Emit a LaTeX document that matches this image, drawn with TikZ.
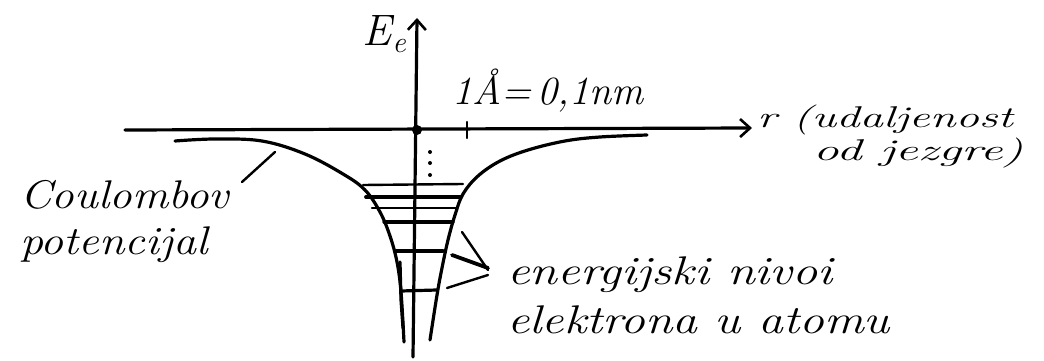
\documentclass[tikz,border=0pt]{standalone}
\usepackage{fontspec}
\usetikzlibrary{arrows.meta}
\newcommand{\hwide}[2]{\scalebox{#1}[1]{#2}}
\tikzset{
  pen/.style={line width=3.2pt, line cap=round, line join=round},
  thinpen/.style={line width=2.4pt, line cap=round},
  hand/.style={font=\fontsize{40}{44}\selectfont\itshape, inner sep=0pt},
  smallhand/.style={font=\fontsize{30}{32}\selectfont\itshape, inner sep=0pt},
  barb/.style={-{Straight Barb[length=10pt,width=18pt,line width=2.6pt]}}
}
\begin{document}
\begin{tikzpicture}[x=1pt,y=-1pt]
\useasboundingbox (0,0) rectangle (1044,361);
% axes
\coordinate (ybot) at (413,357);
\coordinate (ytop) at (417,18);
\coordinate (xleft) at (125,130);
\coordinate (xright) at (752,128);
\draw[pen,barb] (ybot) -- (ytop);
\draw[pen,barb] (xleft) -- (xright);
\fill (417,130) circle (5);
\draw[thinpen] (467,122) -- (467,138);
% dots
\foreach \yy in {152,163,175} \fill (430,\yy) circle (2);
% potential curve
\draw[pen] plot[smooth, tension=0.6] coordinates {(175,141) (215,139) (262,141) (305,154) (343,174) (365,190) (380,212) (390,236) (397,262) (401,292) (404,342)};
\draw[pen] (400,262) -- (401,300) -- (403,328);
\draw[pen] plot[smooth, tension=0.6] coordinates {(647,135) (600,137) (565,141) (528,150) (500,161) (478,176) (463,194) (455,215) (448,240) (442,268) (437,295) (430,340)};
% energy levels
\draw[thinpen] (363,185) -- (463,184);
\draw[pen, line width=3.8pt] (366,197) -- (460,197);
\draw[thinpen] (372,208) -- (457,208);
\draw[pen] (384,222) -- (453,222);
\draw[pen] (396,251) -- (443,251);
\draw[pen] (401,291) -- (437,290);
% leader lines
\draw[thinpen] (275,152) -- (242,182);
\draw[thinpen] (462,232) -- (488,270);
\draw[pen, line width=3.8pt] (452,255) -- (488,268);
\draw[thinpen] (447,288) -- (488,275);
% labels
\node[inner sep=0pt, anchor=base west, font=\fontsize{44}{44}\selectfont\itshape] (Ee) at (362,46) {E\kern1pt\raisebox{-6pt}{\fontsize{30}{30}\selectfont e}};
\node[hand, anchor=base west] (scale) at (452,104) {1Å=\,0,1nm};
\node[smallhand, anchor=base west] (rlab) at (757,127) {\hwide{1.56}{r (udaljenost}};
\node[smallhand, anchor=base west] (rlab2) at (813,160) {\hwide{1.7}{od jezgre)}};
\node[hand, anchor=base west] (coul) at (20,208) {\hwide{1.13}{Coulombov}};
\node[hand, anchor=base west] (coul2) at (20,254) {\hwide{1.15}{potencijal}};
\node[hand, anchor=base west] (lev) at (507,284) {\hwide{1.26}{energijski nivoi}};
\node[hand, anchor=base west] (lev2) at (507,333) {\hwide{1.24}{elektrona u atomu}};
\end{tikzpicture}
\end{document}
